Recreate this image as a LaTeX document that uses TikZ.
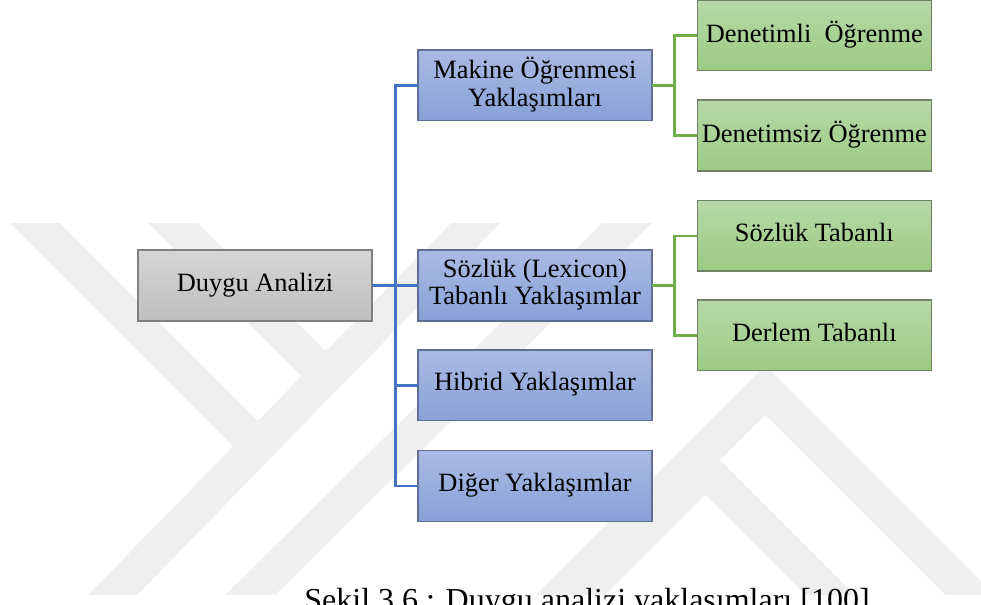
\documentclass[tikz,border=0pt]{standalone}
\usepackage{fontspec}
\setmainfont{Liberation Serif}

\definecolor{wmgray}{RGB}{239,239,239}
\definecolor{roottop}{RGB}{214,214,214}
\definecolor{rootbot}{RGB}{190,190,190}
\definecolor{rootline}{RGB}{128,128,128}
\definecolor{bluetop}{RGB}{171,186,227}
\definecolor{bluebot}{RGB}{136,161,216}
\definecolor{blueedge}{RGB}{96,110,150}
\definecolor{greentop}{RGB}{183,216,167}
\definecolor{greenbot}{RGB}{156,202,131}
\definecolor{greenedge}{RGB}{112,130,100}
\definecolor{bluelink}{RGB}{68,114,196}
\definecolor{greenlink}{RGB}{112,173,71}

\newcommand\boxstrut{\rule[-0.27em]{0pt}{0.95em}}

\begin{document}
\begin{tikzpicture}[x=0.75pt,y=0.75pt,yscale=-1,xscale=1,
  box/.style={draw=#1, line width=1.1pt, minimum width=175.5pt, minimum height=53pt,
    inner sep=0pt, outer sep=0pt, align=center, font=\fontsize{19.8}{20.5}\selectfont,
    execute at begin node=\boxstrut, execute at end node=\boxstrut},
  rootbox/.style={box=rootline, top color=roottop, bottom color=rootbot},
  bluebox/.style={box=blueedge, top color=bluetop, bottom color=bluebot},
  greenbox/.style={box=greenedge, top color=greentop, bottom color=greenbot},
  bluelinks/.style={draw=bluelink, line width=1.9pt},
  greenlinks/.style={draw=greenlink, line width=1.9pt},
  wmband/.style={draw=wmgray, line width=26.25pt},
  captext/.style={font=\fontsize{24}{28}\selectfont, inner sep=0pt}]
\useasboundingbox (0,0) rectangle (981,604);
\clip (0,0) rectangle (981,604);

%Watermark
\begin{scope}
\clip (0,223) rectangle (981,594);
\draw[wmband] (15,203) -- (258,446);
\draw[wmband] (153,203) -- (326,376);
\draw[wmband] (95,613) -- (495,203);
\draw[wmband] (232,613) -- (647,203);
\draw[wmband] (537,618) -- (765,390) -- (993,618);
\draw[wmband] (557,618) -- (705,470) -- (853,618);
\end{scope}

%Shape: Rectangle [root]
\node[rootbox] (root) at (255,285.5) {Duygu Analizi};
%Shape: Rectangle [approaches]
\node[bluebox] (mak) at (535,85.3) {Makine Öğrenmesi\\Yaklaşımları};
\node[bluebox] (soz) at (535,285.5) {Sözlük (Lexicon)\\Tabanlı Yaklaşımlar};
\node[bluebox] (hib) at (535,385.3) {Hibrid Yaklaşımlar};
\node[bluebox] (dig) at (535,486) {Diğer Yaklaşımlar};
%Shape: Rectangle [sub types]
\node[greenbox] (den1) at (814.3,35.3) {Denetimli\ \ Öğrenme};
\node[greenbox] (den2) at (814.3,135.5) {Denetimsiz Öğrenme};
\node[greenbox] (stab) at (814.3,235.8) {Sözlük Tabanlı};
\node[greenbox] (dtab) at (814.3,335.4) {Derlem Tabanlı};

%Straight Lines
\foreach \n in {mak,soz,hib,dig}
  \draw[bluelinks] (root.east) -- ++(23.5,0) |- (\n.west);
\foreach \a/\b in {mak/den1,mak/den2,soz/stab,soz/dtab}
  \draw[greenlinks] (\a.east) -- ++(22.5,0) |- (\b.west);

% Text Node
\node[captext, anchor=base] (cap) at (587,610) {Şekil 3.6 : Duygu analizi yaklaşımları [100]};

\end{tikzpicture}
\end{document}
